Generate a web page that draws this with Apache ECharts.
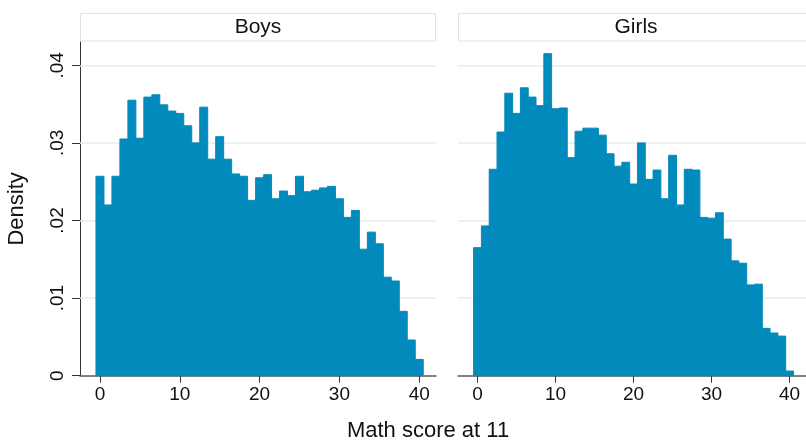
<!DOCTYPE html>
<html>
<head>
<meta charset="utf-8">
<title>Math score at 11 by sex</title>
<script src="https://cdn.jsdelivr.net/npm/echarts@6/dist/echarts.min.js"></script>
<style>
  html, body { margin: 0; padding: 0; background: #ffffff; }
  #chart { width: 806px; height: 441px; }
</style>
</head>
<body>
<div id="chart"></div>
<script>
// Score bins (width 1, centred on each integer score)
const scores = [0, 1, 2, 3, 4, 5, 6, 7, 8, 9, 10, 11, 12, 13, 14, 15, 16, 17, 18, 19, 20,
  21, 22, 23, 24, 25, 26, 27, 28, 29, 30, 31, 32, 33, 34, 35, 36, 37, 38, 39, 40];
const binWidth = 1;

// Density per bin
const boysDensity = [0.0257, 0.0220, 0.0257, 0.0305, 0.0355, 0.0306, 0.0359, 0.0362, 0.0349, 0.0341,
  0.0338, 0.0322, 0.0300, 0.0346, 0.0279, 0.0308, 0.0279, 0.0260, 0.0257, 0.0226,
  0.0255, 0.0259, 0.0228, 0.0238, 0.0232, 0.0257, 0.0237, 0.0239, 0.0242, 0.0244,
  0.0228, 0.0204, 0.0213, 0.0163, 0.0185, 0.0170, 0.0127, 0.0122, 0.0083, 0.0046, 0.0021];
const girlsDensity = [0.0165, 0.0193, 0.0266, 0.0314, 0.0364, 0.0338, 0.0371, 0.0359, 0.0348, 0.0415,
  0.0344, 0.0345, 0.0281, 0.0315, 0.0319, 0.0319, 0.0310, 0.0286, 0.0270, 0.0275,
  0.0247, 0.0300, 0.0253, 0.0265, 0.0228, 0.0284, 0.0220, 0.0266, 0.0265, 0.0204,
  0.0203, 0.0210, 0.0176, 0.0148, 0.0145, 0.0117, 0.0118, 0.0061, 0.0055, 0.0051, 0.0006];

const panelTitles = ['Boys', 'Girls'];
const xTicks = [0, 10, 20, 30, 40];
const yTicks = [0, 0.01, 0.02, 0.03, 0.04];
const yTickLabels = ['0', '.01', '.02', '.03', '.04'];
const xTitle = 'Math score at 11';
const yTitle = 'Density';

const FONT = "'Liberation Sans', Arial, Helvetica, sans-serif";
const BAR = '#028abc';
const GRID_LINE = '#e6eef1';

const chart = echarts.init(document.getElementById('chart'), null, { renderer: 'canvas' });

const plotTop = 42;
const plotHeight = 333.7;
const plotWidth = 356;
const panelLeft = [80, 458];

function histSeries(values, idx) {
  return {
    type: 'custom',
    xAxisIndex: idx,
    yAxisIndex: idx,
    z: 3,
    data: scores.map((s, i) => [s, values[i]]),
    renderItem(params, api) {
      const x = api.value(0);
      const y = api.value(1);
      const topLeft = api.coord([x - binWidth / 2, y]);
      const bottomRight = api.coord([x + binWidth / 2, 0]);
      return {
        type: 'rect',
        shape: {
          x: topLeft[0],
          y: topLeft[1],
          width: bottomRight[0] - topLeft[0],
          height: bottomRight[1] - topLeft[1]
        },
        style: { fill: BAR, stroke: BAR, lineWidth: 1 }
      };
    }
  };
}

function gridLineSeries(idx) {
  return {
    type: 'line',
    xAxisIndex: idx,
    yAxisIndex: idx,
    data: [],
    silent: true,
    markLine: {
      z: 1,
      silent: true,
      symbol: 'none',
      label: { show: false },
      lineStyle: { type: 'solid', color: GRID_LINE, width: 1.5 },
      data: yTicks.filter(v => v > 0).map(v => ({ yAxis: v }))
    }
  };
}

function xAxisFor(idx) {
  return {
    type: 'value',
    gridIndex: idx,
    min: -2.5,
    max: 42.1,
    axisLine: { show: true, onZero: false, lineStyle: { color: '#5a5a5a', width: 1.5 } },
    axisTick: { show: true, customValues: xTicks, length: 7, lineStyle: { color: '#333', width: 1 } },
    axisLabel: { customValues: xTicks, margin: 10, fontSize: 19, fontFamily: FONT, color: '#111' },
    splitLine: { show: false }
  };
}

const option = {
  animation: false,
  backgroundColor: '#ffffff',
  grid: panelLeft.map(l => ({ left: l, top: plotTop, width: plotWidth, height: plotHeight, containLabel: false })),
  xAxis: [xAxisFor(0), xAxisFor(1)],
  yAxis: [
    {
      type: 'value',
      gridIndex: 0,
      min: 0,
      max: 0.043,
      name: yTitle,
      nameLocation: 'middle',
      nameRotate: 90,
      nameGap: 52,
      nameTextStyle: { fontSize: 22, fontFamily: FONT, color: '#111' },
      axisLine: { show: true, onZero: false, lineStyle: { color: '#333', width: 1 } },
      axisTick: { show: true, customValues: yTicks, length: 8, lineStyle: { color: '#333' } },
      axisLabel: {
        customValues: yTicks,
        rotate: 90,
        margin: 13,
        fontSize: 19,
        fontFamily: FONT,
        color: '#111',
        formatter: v => {
          const i = yTicks.findIndex(t => Math.abs(t - v) < 1e-9);
          return i >= 0 ? yTickLabels[i] : '';
        }
      },
      splitLine: { show: false }
    },
    {
      type: 'value',
      gridIndex: 1,
      min: 0,
      max: 0.043,
      axisLine: { show: false, onZero: false },
      axisTick: { show: false },
      axisLabel: { show: false },
      splitLine: { show: false }
    }
  ],
  graphic: [
    ...panelLeft.map((l, i) => ({
      type: 'group',
      children: [
        {
          type: 'rect',
          shape: { x: l + 0.5, y: 13.5, width: plotWidth - 1, height: 27.5 },
          style: { fill: '#ffffff', stroke: '#dbe5ea', lineWidth: 1 }
        },
        {
          type: 'text',
          x: l + plotWidth / 2,
          y: 27,
          style: {
            text: panelTitles[i],
            fill: '#111',
            font: '21px ' + FONT,
            textAlign: 'center',
            textVerticalAlign: 'middle'
          }
        }
      ]
    })),
    {
      type: 'text',
      x: 428,
      y: 431,
      style: {
        text: xTitle,
        fill: '#111',
        font: '22px ' + FONT,
        textAlign: 'center',
        textVerticalAlign: 'middle'
      }
    }
  ],
  series: [
    gridLineSeries(0),
    gridLineSeries(1),
    histSeries(boysDensity, 0),
    histSeries(girlsDensity, 1)
  ]
};

chart.setOption(option);
</script>
</body>
</html>
